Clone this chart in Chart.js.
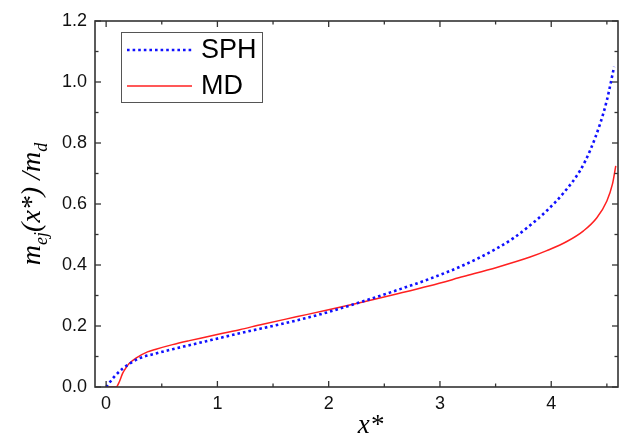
<!DOCTYPE html>
<html>
<head>
<meta charset="utf-8">
<script src="https://cdn.jsdelivr.net/npm/chart.js@4/dist/chart.umd.min.js"></script>
<style>
  html, body { margin: 0; padding: 0; background: #ffffff; }
  #wrap { width: 622px; height: 439px; position: relative; }
</style>
</head>
<body>
<div id="wrap"><canvas id="c" width="622" height="439"></canvas></div>
<script>
// ---- data ----
const sphX = [0.0, 0.072, 0.147, 0.222, 0.297, 0.448, 0.597, 0.748, 0.898, 1.048, 1.2, 1.408, 1.709, 2.009, 2.309, 2.61, 2.91, 3.21, 3.51, 3.66, 3.81, 3.96, 4.11, 4.26, 4.35, 4.44, 4.5, 4.565];
const sphY = [0.0, 0.033, 0.060, 0.079, 0.094, 0.110, 0.124, 0.137, 0.150, 0.163, 0.176, 0.193, 0.218, 0.247, 0.281, 0.317, 0.355, 0.399, 0.454, 0.488, 0.530, 0.578, 0.636, 0.710, 0.776, 0.864, 0.940, 1.050];

const mdX = [0.0, 0.09, 0.12, 0.147, 0.18, 0.207, 0.268, 0.372, 0.448, 0.597, 0.748, 0.898, 1.048, 1.2, 1.408, 1.709, 2.009, 2.309, 2.61, 2.91, 3.21, 3.51, 3.81, 3.96, 4.14, 4.29, 4.41, 4.5, 4.55, 4.58];
const mdY = [0.0, 0.0, 0.018, 0.044, 0.064, 0.077, 0.095, 0.115, 0.124, 0.139, 0.152, 0.164, 0.176, 0.188, 0.206, 0.230, 0.254, 0.279, 0.305, 0.332, 0.362, 0.392, 0.426, 0.447, 0.477, 0.512, 0.555, 0.610, 0.665, 0.725];

const seriesNames = ["SPH", "MD"];
const xTicks = [0, 1, 2, 3, 4];
const xMinorTicks = [0.5, 1.5, 2.5, 3.5, 4.5];
const yTicks = [0.0, 0.2, 0.4, 0.6, 0.8, 1.0, 1.2];
const yMinorTicks = [0.1, 0.3, 0.5, 0.7, 0.9, 1.1];
const xRange = [-0.1, 4.6];
const yRange = [0, 1.2];
const xTitle = "x*";

const toPts = (xs, ys) => xs.map((x, i) => ({ x: x, y: ys[i] }));

const FRAME = '#333333';

const framePlugin = {
  id: 'frame',
  afterDatasetsDraw(chart) {
    const ctx = chart.ctx;
    const a = chart.chartArea;
    const xs = chart.scales.x, ys = chart.scales.y;
    ctx.save();
    ctx.strokeStyle = FRAME;
    ctx.lineWidth = 1.6;
    ctx.strokeRect(a.left, a.top, a.right - a.left, a.bottom - a.top);
    ctx.lineWidth = 1.3;
    const tick = (x1, y1, x2, y2) => { ctx.beginPath(); ctx.moveTo(x1, y1); ctx.lineTo(x2, y2); ctx.stroke(); };
    const maj = 6, min = 3.5;
    xTicks.forEach(v => { const p = xs.getPixelForValue(v); tick(p, a.bottom, p, a.bottom - maj); tick(p, a.top, p, a.top + maj); });
    xMinorTicks.forEach(v => { const p = xs.getPixelForValue(v); tick(p, a.bottom, p, a.bottom - min); tick(p, a.top, p, a.top + min); });
    yTicks.forEach(v => { const p = ys.getPixelForValue(v); tick(a.left, p, a.left + maj, p); tick(a.right, p, a.right - maj, p); });
    yMinorTicks.forEach(v => { const p = ys.getPixelForValue(v); tick(a.left, p, a.left + min, p); tick(a.right, p, a.right - min, p); });
    ctx.restore();
  },
  afterDraw(chart) {
    const ctx = chart.ctx;
    const a = chart.chartArea;
    ctx.save();
    // legend box
    const bx = a.left + 26, by = a.top + 11, bw = 141, bh = 70;
    ctx.strokeStyle = '#555555';
    ctx.lineWidth = 1;
    ctx.strokeRect(bx + 0.5, by + 0.5, bw, bh);
    chart.data.datasets.forEach((ds, i) => {
      const ly = by + 18 + i * 36;
      ctx.save();
      ctx.strokeStyle = ds.borderColor;
      ctx.lineWidth = ds.borderWidth;
      ctx.setLineDash(ds.borderDash || []);
      ctx.lineCap = 'butt';
      ctx.beginPath();
      ctx.moveTo(bx + 6, ly);
      ctx.lineTo(bx + 71, ly);
      ctx.stroke();
      ctx.restore();
      ctx.fillStyle = '#000000';
      ctx.font = '27px "Liberation Sans", Arial, sans-serif';
      ctx.textBaseline = 'middle';
      ctx.textAlign = 'left';
      ctx.fillText(ds.label, bx + 80, ly + 1);
    });
    // x axis title
    ctx.fillStyle = '#000000';
    ctx.font = 'italic 27px "Liberation Serif", "Times New Roman", serif';
    ctx.textAlign = 'center';
    ctx.textBaseline = 'alphabetic';
    ctx.fillText(xTitle, (a.left + a.right) / 2 + 14, 433);
    // y axis title with subscripts
    const big = 'italic 28px "Liberation Serif", "Times New Roman", serif';
    const small = 'italic 18px "Liberation Serif", "Times New Roman", serif';
    const parts = [
      { t: 'm', f: big, dy: 0 },
      { t: 'ej', f: small, dy: 7 },
      { t: '(x*) /', f: big, dy: 0 },
      { t: 'm', f: big, dy: 0 },
      { t: 'd', f: small, dy: 7 }
    ];
    let total = 0;
    parts.forEach(p => { ctx.font = p.f; p.w = ctx.measureText(p.t).width; total += p.w; });
    ctx.translate(40, (a.top + a.bottom) / 2);
    ctx.rotate(-Math.PI / 2);
    ctx.textAlign = 'left';
    let cx = -total / 2;
    parts.forEach(p => { ctx.font = p.f; ctx.fillText(p.t, cx, p.dy); cx += p.w; });
    ctx.restore();
  }
};

new Chart(document.getElementById('c'), {
  type: 'scatter',
  data: {
    datasets: [
      {
        label: seriesNames[0],
        data: toPts(sphX, sphY),
        showLine: true,
        borderColor: '#1010ff',
        borderWidth: 2.6,
        borderDash: [2.6, 3],
        pointRadius: 0,
        fill: false,
        cubicInterpolationMode: 'monotone'
      },
      {
        label: seriesNames[1],
        data: toPts(mdX, mdY),
        showLine: true,
        borderColor: '#ff2020',
        borderWidth: 1.5,
        pointRadius: 0,
        fill: false,
        cubicInterpolationMode: 'monotone'
      }
    ]
  },
  options: {
    responsive: false,
    animation: false,
    events: [],
    layout: { padding: { top: 21, right: 4, left: 0, bottom: 0 } },
    plugins: { legend: { display: false }, tooltip: { enabled: false }, title: { display: false } },
    scales: {
      x: {
        type: 'linear',
        min: xRange[0], max: xRange[1],
        afterBuildTicks: s => { s.ticks = xTicks.map(v => ({ value: v })); },
        afterFit: s => { s.height = 52; },
        grid: { display: false, drawTicks: false },
        border: { display: false },
        ticks: {
          padding: 6,
          color: '#111111',
          font: { family: '"Liberation Sans", Arial, sans-serif', size: 18 },
          callback: v => String(v)
        }
      },
      y: {
        type: 'linear',
        min: yRange[0], max: yRange[1],
        afterBuildTicks: s => { s.ticks = yTicks.map(v => ({ value: v })); },
        afterFit: s => { s.width = 95; },
        grid: { display: false, drawTicks: false },
        border: { display: false },
        ticks: {
          padding: 8,
          color: '#111111',
          font: { family: '"Liberation Sans", Arial, sans-serif', size: 18 },
          callback: v => Number(v).toFixed(1)
        }
      }
    }
  },
  plugins: [framePlugin]
});
</script>
</body>
</html>
